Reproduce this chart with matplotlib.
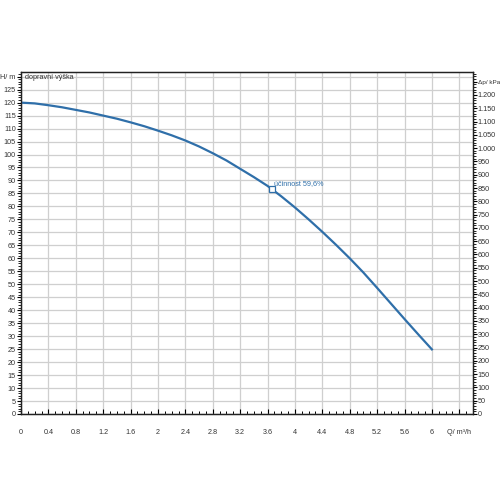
import matplotlib
matplotlib.use("Agg")
import matplotlib.pyplot as plt
from matplotlib.ticker import MultipleLocator

# Data
Q = [0.0, 0.2, 0.4, 0.6, 0.8, 1.0, 1.2, 1.4, 1.6, 1.8, 2.0, 2.2, 2.4, 2.6, 2.8, 3.0,
     3.2, 3.4, 3.6, 3.8, 4.0, 4.2, 4.4, 4.6, 4.8, 5.0, 5.2, 5.4, 5.6, 5.8, 6.0]
H = [120.0, 119.7, 119.0, 118.2, 117.2, 116.2, 115.0, 113.8, 112.4, 110.9, 109.2, 107.4,
     105.4, 103.1, 100.5, 97.7, 94.5, 91.3, 87.9, 83.9, 79.6, 75.0, 70.2, 65.2, 60.0,
     54.5, 48.6, 42.6, 36.6, 30.7, 24.9]
eff_Q = [3.66]
eff_H = [86.8]
eff_label = "účinnost 59,6%"
curve_label = "dopravní výška"

x_ticks = [0, 0.4, 0.8, 1.2, 1.6, 2, 2.4, 2.8, 3.2, 3.6, 4, 4.4, 4.8, 5.2, 5.6, 6, 6.4]
x_labels = ["0", "0.4", "0.8", "1.2", "1.6", "2", "2.4", "2.8", "3.2", "3.6", "4", "4.4",
            "4.8", "5.2", "5.6", "6", "Q/ m³/h"]
y_ticks = list(range(0, 131, 5))
y_labels = [str(v) for v in range(0, 126, 5)] + ["H/ m"]
kpa_ticks = list(range(0, 1251, 50))
kpa_labels = [(f"{v//1000}.{v%1000:03d}" if v >= 1000 else str(v)) for v in range(0, 1201, 50)] + ["Δp/ kPa"]

KPA_PER_M = 9.76
blue = "#2f6fa9"
fs = 5.2
plt.rcParams["font.family"] = ["Liberation Sans", "DejaVu Sans"]

fig = plt.figure(figsize=(5, 5), dpi=100)
ax = fig.add_axes([0.042, 0.172, 0.904, 0.684])
ax.set_xlim(0, 6.6)
ax.set_ylim(0, 131.8)

ax.set_xticks(x_ticks)
ax.set_xticklabels(x_labels, fontsize=fs, color="#333333")
ax.xaxis.set_minor_locator(MultipleLocator(0.1))
ax.set_yticks(y_ticks)
ax.set_yticklabels(y_labels, fontsize=fs, color="#333333")
ax.yaxis.set_minor_locator(MultipleLocator(1))
ax.tick_params(axis="x", which="major", direction="in", length=3.5, width=0.8, pad=11)
ax.tick_params(axis="x", which="minor", direction="in", length=2.2, width=0.7)
ax.tick_params(axis="y", which="major", direction="out", length=3, width=0.8, pad=0.8)
ax.tick_params(axis="y", which="minor", direction="out", length=2, width=0.6)
ax.grid(True, which="major", color="#cfcfcf", linewidth=0.9)
ax.set_axisbelow(True)
for s in ax.spines.values():
    s.set_color("#222222")
    s.set_linewidth(0.9)

ax.plot(Q, H, color=blue, linewidth=1.6, zorder=3, solid_joinstyle="round")
ax.plot(eff_Q, eff_H, marker="s", markersize=4.5, markerfacecolor="white",
        markeredgecolor=blue, markeredgewidth=0.9, linestyle="none", zorder=4)
ax.text(eff_Q[0] + 0.04, eff_H[0] + 0.8, eff_label, fontsize=fs, color=blue,
        ha="left", va="bottom", zorder=5)
ax.text(0.06, 129.5, curve_label, fontsize=fs, color="#333333", ha="left", va="center")

ax2 = ax.twinx()
ax2.set_ylim(0, 131.8 * KPA_PER_M)
ax2.set_yticks(kpa_ticks)
ax2.set_yticklabels(kpa_labels, fontsize=fs, color="#333333")
ax2.yaxis.set_minor_locator(MultipleLocator(10))
ax2.tick_params(axis="y", which="major", direction="out", length=3, width=0.8, pad=0.5)
ax2.tick_params(axis="y", which="minor", direction="out", length=2, width=0.6)
ax2.get_yticklabels()[-1].set_fontsize(4.6)
for s in ax2.spines.values():
    s.set_color("#222222")
    s.set_linewidth(0.9)

fig.savefig("out.png", dpi=100, facecolor="white")
